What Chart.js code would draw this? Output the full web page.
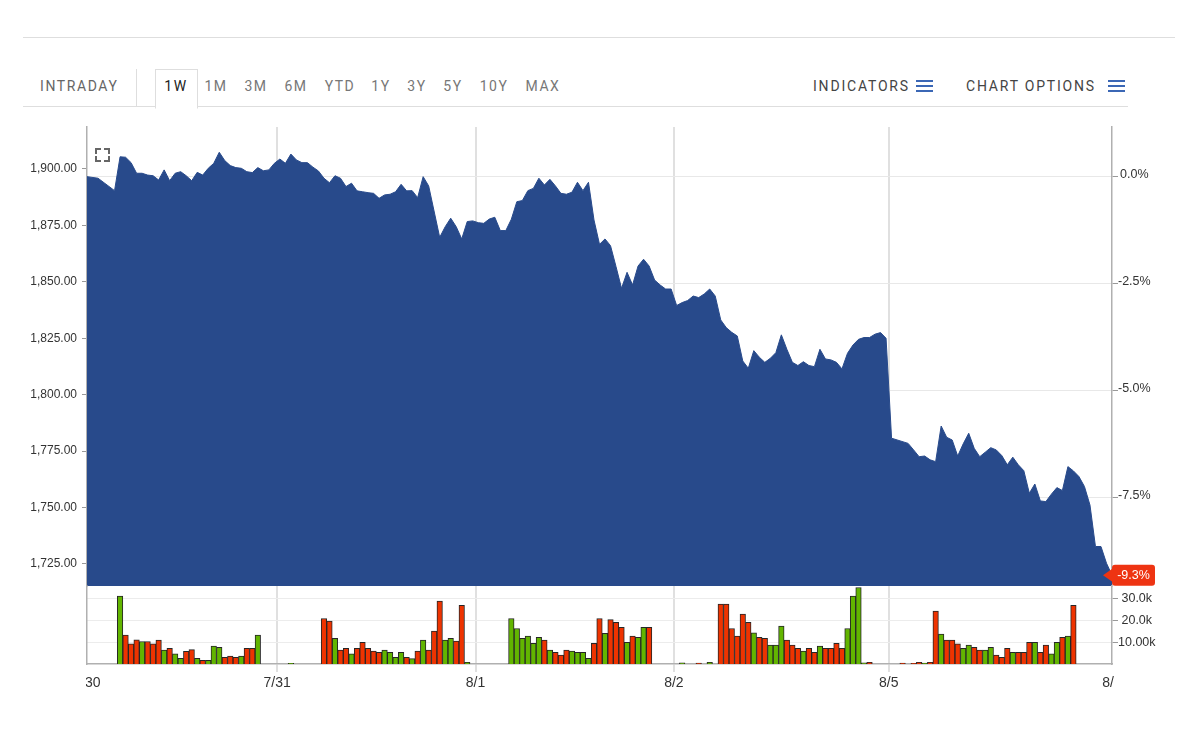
<!DOCTYPE html>
<html>
<head>
<meta charset="utf-8">
<script src="https://cdn.jsdelivr.net/npm/chart.js@4.4.1/dist/chart.umd.min.js"></script>
<style>
  html,body{margin:0;padding:0;background:#fff;}
  body{width:1199px;height:735px;overflow:hidden;position:relative;font-family:Roboto,"Liberation Sans",Arial,sans-serif;}
  .abs{position:absolute;}
  .tab{position:absolute;top:78px;height:17px;line-height:17px;font-size:14px;letter-spacing:1.5px;color:#777;text-align:center;width:50px;}
  .menu{position:absolute;top:78px;height:17px;line-height:17px;font-size:14px;letter-spacing:1.8px;color:#444;white-space:nowrap;}
  .burger{position:absolute;width:17px;height:2px;background:#3b67b5;}
  .fs{position:absolute;width:4px;height:4px;border-color:#666;border-style:solid;border-width:0;}
</style>
</head>
<body>
  <div class="abs" style="left:23px;top:37px;width:1152px;height:1px;background:#dedede"></div>

  <div class="abs" style="left:23px;top:106px;width:1105px;height:1px;background:#dedede"></div>
  <div class="menu" style="left:40px;color:#666;letter-spacing:1.6px">INTRADAY</div>
  <div class="abs" style="left:136px;top:69px;width:1px;height:38px;background:#dedede"></div>
  <div class="abs" style="left:155px;top:69px;width:41px;height:38px;border:1px solid #dedede;border-bottom:1px solid #fff;background:#fff"></div>
  <div class="tab" style="left:151px;color:#222">1W</div>
  <div class="tab" style="left:191px">1M</div>
  <div class="tab" style="left:231px">3M</div>
  <div class="tab" style="left:271px">6M</div>
  <div class="tab" style="left:315px">YTD</div>
  <div class="tab" style="left:356px">1Y</div>
  <div class="tab" style="left:392px">3Y</div>
  <div class="tab" style="left:428px">5Y</div>
  <div class="tab" style="left:469px">10Y</div>
  <div class="tab" style="left:518px">MAX</div>

  <div class="menu" style="left:813px">INDICATORS</div>
  <div class="burger" style="left:916px;top:80px"></div>
  <div class="burger" style="left:916px;top:85px"></div>
  <div class="burger" style="left:916px;top:90px"></div>
  <div class="menu" style="left:966px">CHART OPTIONS</div>
  <div class="burger" style="left:1108px;top:80px"></div>
  <div class="burger" style="left:1108px;top:85px"></div>
  <div class="burger" style="left:1108px;top:90px"></div>

  <canvas id="priceChart" width="1199" height="470" style="position:absolute;left:0;top:120px"></canvas>
  <canvas id="volChart" width="1199" height="120" style="position:absolute;left:0;top:580px"></canvas>

  <div class="abs" style="left:95px;top:148px;width:15px;height:14px">
    <div class="fs" style="left:0;top:0;border-left-width:2px;border-top-width:2px"></div>
    <div class="fs" style="right:0;top:0;border-right-width:2px;border-top-width:2px"></div>
    <div class="fs" style="left:0;bottom:0;border-left-width:2px;border-bottom-width:2px"></div>
    <div class="fs" style="right:0;bottom:0;border-right-width:2px;border-bottom-width:2px"></div>
  </div>

<script>
// ---------------- data ----------------
const prevClose = 1896.5;
const priceMin = 1715.2;
const priceMax = 1918.6;
const priceTicks = [1725, 1750, 1775, 1800, 1825, 1850, 1875, 1900];
const pctTicks = [0, -2.5, -5, -7.5];
const volMax = 36;                       // thousands
const volTicks = [10, 20, 30];           // thousands
const volTickLabels = ['10.00k', '20.0k', '30.0k'];
const slotCount = 186;
const dayTicks = [0, 34.5, 70.5, 106.5, 145.5, 186];
const dayLabels = ['7/30', '7/31', '8/1', '8/2', '8/5', '8/6'];

// price per time slot (null = no print)
const price = [
  // 7/30 pre
  1896.6, null, 1895.9, null, null, 1890.4,
  // 7/30 session
  1905.4, 1905.2, 1902.8, 1898.1, 1898.1, 1897.3, 1897.0, 1895.1, 1899.6, 1894.8,
  1898.1, 1898.8, 1897.0, 1894.8, 1898.5, 1897.3, 1900.3, 1902.5, 1907.4, 1903.7,
  1901.5, 1900.6, 1900.3, 1898.8, 1898.4, 1900.6,
  // after hours / 7/31 pre
  1899.2, 1899.6, 1902.5, 1904.4, 1902.5, 1906.6, 1904.0, 1902.8, 1902.8, 1900.8, 1899.1,
  // 7/31 session
  1895.9, 1893.9, 1897.0, 1895.9, 1892.2, 1893.7, 1890.3, 1889.9, 1889.5, 1889.2,
  1887.0, 1888.5, 1888.8, 1889.9, 1893.2, 1890.3, 1890.4, 1887.3, 1896.6, 1892.5,
  null, 1869.7, 1874.4, 1878.2, 1874.4, 1869.0, 1876.7,
  // 8/1
  1877.0, 1876.2, 1875.9, 1877.8, 1878.6, 1872.7, 1872.7, 1877.7, 1885.5, 1886.0,
  1890.4, 1891.4, 1895.9, 1892.9, 1895.4, 1892.5, 1889.2, 1888.8, 1889.7, 1894.1,
  1890.4, 1894.1, 1877.4, 1866.6, 1869.0, 1866.0, 1856.7, 1847.1, 1854.2, 1848.6,
  1857.0, 1860.0, 1857.0, 1850.8, 1848.6, 1846.8, 1846.8,
  // 8/2
  1839.5, 1840.8, 1841.7, 1843.7, 1843.0, 1844.6, 1846.8, 1843.7, 1833.1, 1829.7,
  1827.6, 1826.0, 1814.9, 1811.7, 1819.5, 1816.6, 1814.3, 1816.1, 1818.6, 1826.5,
  1820.1, 1814.3, 1812.9, 1814.6, 1812.9, 1812.4, 1820.1, 1815.8, 1815.4, 1814.3,
  1811.4, 1818.3, 1822.0, 1824.5, 1825.3, 1825.3, 1826.8, 1827.5, 1825.0,
  // 8/5
  1780.7, null, null, 1778.4, 1775.5, 1772.5, 1772.8, 1771.1, 1770.3, 1786.1,
  1781.1, 1779.9, 1772.8, 1778.2, 1782.9, 1776.2, 1772.5, 1774.5, 1776.5, 1775.5,
  1773.0, 1768.9, 1772.3, 1768.9, 1766.3, 1756.3, 1760.4, 1752.9, 1752.6, 1755.9,
  1758.8, 1757.5, 1768.1, 1766.2, 1763.7, 1759.3, 1751.1, 1732.7, 1732.7, 1725.3,
  1720.0
];

const gap = n => Array(n).fill(null);
// volume per slot, thousands of shares
const volume = [].concat(
  gap(6),
  [31.3, 13.3, 9.3, 11.2, 10.4, 10.4, 9.3, 11.0, 6.4, 7.2, 4.7, 2.6, 5.8, 6.6, 2.6, 1.7, 1.7, 8.3, 7.7, 3.1, 3.7, 3.1, 3.7, 7.2, 7.2, 13.3],
  gap(5), [0.3], gap(5),
  [21.0, 19.8, 11.8, 6.4, 7.2, 4.7, 7.2, 10.0, 7.2, 6.0, 5.4, 6.4, 5.4, 3.1, 5.4, 3.1, 2.5, 6.0, 11.0, 6.4, 15.2, 29.0, 11.0, 11.8, 10.6, 27.1, 0.8],
  gap(7),
  [21.0, 16.4, 11.8, 12.9, 9.5, 12.3, 11.0, 6.4, 5.4, 4.1, 6.4, 6.0, 5.4, 5.4, 2.6, 9.5, 21.0, 14.1, 20.5, 19.2, 16.9, 10.0, 12.9, 12.3, 16.9, 16.9],
  gap(5), [0.5], gap(2), [0.4], gap(1), [0.8], gap(1),
  [27.6, 27.6, 16.4, 12.9, 23.0, 19.2, 14.4, 12.3, 11.8, 8.7, 8.7, 17.5, 11.0, 8.7, 7.2, 6.0, 7.2, 5.4, 8.3, 7.2, 7.2, 9.5, 7.2, 16.4, 31.3, 35.3],
  [0.5, 0.8], gap(5), [0.4], gap(1), [0.3, 0.8, 0.4, 0.8],
  [24.4, 13.8, 11.0, 11.0, 9.3, 7.2, 8.7, 7.7, 6.4, 6.4, 7.7, 4.1, 3.1, 7.2, 5.4, 5.4, 5.4, 10.0, 10.0, 5.4, 8.7, 4.7, 10.0, 12.3, 12.9, 27.1],
  gap(7)
);
// 1 = up (green), 0 = down (red)
const volumeUp = [].concat(
  gap(6),
  [1,0,0,0,1,0,0,0,1,0,1,1,0,0,1,0,1,1,1,0,0,0,1,0,0,1],
  gap(5), [1], gap(5),
  [0,0,1,0,0,1,0,0,0,0,0,1,1,1,1,0,1,0,1,0,0,0,1,1,0,0,1],
  gap(7),
  [1,1,1,1,1,1,0,1,0,0,0,1,1,1,1,0,0,1,0,0,0,1,0,1,1,0],
  gap(5), [1], gap(2), [0], gap(1), [1], gap(1),
  [0,0,0,0,0,0,1,0,0,1,1,1,0,0,0,1,0,0,1,0,0,0,0,1,1,1],
  [1, 0], gap(5), [0], gap(1), [0, 0, 1, 0],
  [0,1,0,0,0,1,1,0,0,1,1,0,0,0,1,0,0,0,1,0,0,1,1,0,1,0],
  gap(7)
);

// ---------------- styling ----------------
const AREA = '#284a8b';
const UP = '#62b500';
const DOWN = '#ee3300';
const BADGE = '#ee3412';
const FONT = '"Liberation Sans", Arial, sans-serif';
Chart.defaults.font.family = FONT;
Chart.defaults.color = '#333';

const pct = p => (p / prevClose - 1) * 100;
const dayGridColor = c => (c.index === 0 || c.index === dayTicks.length - 1) ? 'rgba(0,0,0,0)' : '#e0e0e0';
const fixWidth = w => s => { s.width = w; s.paddingTop = 0; s.paddingBottom = 0; };

const badgePlugin = {
  id: 'lastBadge',
  afterDraw(chart) {
    const { ctx, chartArea, scales } = chart;
    let last = null;
    for (let i = price.length - 1; i >= 0; i--) { if (price[i] !== null) { last = price[i]; break; } }
    const v = pct(last);
    const y = scales.yp.getPixelForValue(v);
    const x = chartArea.right;
    ctx.save();
    ctx.fillStyle = BADGE;
    ctx.beginPath();
    ctx.moveTo(x - 9, y);
    ctx.lineTo(x + 1, y - 7);
    ctx.lineTo(x + 1, y + 7);
    ctx.closePath();
    ctx.fill();
    ctx.beginPath();
    ctx.roundRect(x, y - 10.5, 43, 21, 3);
    ctx.fill();
    ctx.fillStyle = '#fff';
    ctx.font = '12.5px ' + FONT;
    ctx.textAlign = 'center';
    ctx.textBaseline = 'middle';
    ctx.fillText(v.toFixed(1) + '%', x + 21.5, y + 0.5);
    ctx.restore();
  }
};

const dayLabelPlugin = {
  id: 'dayLabels',
  afterDraw(chart) {
    const { ctx, chartArea, scales } = chart;
    ctx.save();
    ctx.beginPath();
    ctx.rect(chartArea.left - 1, chartArea.bottom, chartArea.right - chartArea.left + 3, chart.height - chartArea.bottom);
    ctx.clip();
    ctx.font = '14px ' + FONT;
    ctx.fillStyle = '#333';
    ctx.textAlign = 'center';
    ctx.textBaseline = 'middle';
    dayTicks.forEach((v, i) => ctx.fillText(dayLabels[i], scales.x.getPixelForValue(v), chartArea.bottom + 19));
    ctx.restore();
  }
};

const xAxis = (extra) => Object.assign({
  type: 'linear', min: 0, max: slotCount, offset: false,
  afterBuildTicks: s => { s.ticks = dayTicks.map(v => ({ value: v })); },
  ticks: { display: false },
}, extra);

// ---------------- price chart ----------------
new Chart(document.getElementById('priceChart'), {
  type: 'line',
  data: {
    datasets: [{
      data: price.map((p, i) => ({ x: i, y: p })),
      fill: 'start',
      backgroundColor: AREA,
      borderColor: AREA,
      borderWidth: 1,
      pointRadius: 0,
      tension: 0,
      spanGaps: true,
      yAxisID: 'y'
    }]
  },
  options: {
    responsive: false, animation: false, events: [],
    layout: { padding: { top: 7, bottom: 4, left: 0, right: 0 } },
    plugins: { legend: { display: false }, tooltip: { enabled: false } },
    scales: {
      x: xAxis({
        grid: { color: dayGridColor, lineWidth: 2, drawTicks: false, offset: false },
        border: { display: false },
        afterFit: s => { s.height = 0; }
      }),
      y: {
        position: 'left', min: priceMin, max: priceMax,
        afterBuildTicks: s => { s.ticks = priceTicks.map(v => ({ value: v })); },
        ticks: {
          padding: 5, color: '#333', font: { size: 12 },
          callback: v => v.toLocaleString('en-US', { minimumFractionDigits: 2, maximumFractionDigits: 2 })
        },
        grid: { drawOnChartArea: false, tickLength: 5, color: '#999' },
        border: { color: '#b0b0b0', width: 1.5 },
        afterFit: fixWidth(87)
      },
      yp: {
        position: 'right', min: pct(priceMin), max: pct(priceMax),
        afterBuildTicks: s => { s.ticks = pctTicks.map(v => ({ value: v })); },
        ticks: {
          padding: 0, crossAlign: 'center', labelOffset: -2, color: '#333', font: { size: 12.5 },
          callback: v => v.toFixed(1) + '%'
        },
        grid: { color: '#e8e8e8', lineWidth: 1, tickLength: 6, tickColor: '#999' },
        border: { color: '#b0b0b0', width: 1.5 },
        afterFit: fixWidth(87)
      }
    }
  },
  plugins: [badgePlugin]
});

// ---------------- volume chart ----------------
const volPoints = [];
const volColors = [];
volume.forEach((v, i) => {
  if (v !== null) { volPoints.push({ x: i, y: v }); volColors.push(volumeUp[i] ? UP : DOWN); }
});

new Chart(document.getElementById('volChart'), {
  type: 'bar',
  data: {
    datasets: [{
      data: volPoints,
      backgroundColor: volColors,
      borderColor: '#262626',
      borderWidth: 1,
      barPercentage: 1,
      categoryPercentage: 1,
      xAxisID: 'x',
      yAxisID: 'yv'
    }]
  },
  options: {
    responsive: false, animation: false, events: [],
    layout: { padding: { top: 6, bottom: 0, left: 0, right: 0 } },
    plugins: { legend: { display: false }, tooltip: { enabled: false } },
    scales: {
      x: xAxis({
        grid: { color: dayGridColor, tickColor: dayGridColor, lineWidth: 2, drawTicks: true, tickLength: 8, offset: false },
        border: { color: '#b0b0b0', width: 1.5 },
        afterFit: s => { s.height = 36; }
      }),
      yl: {
        position: 'left', min: 0, max: volMax,
        ticks: { display: false },
        grid: { drawOnChartArea: false, drawTicks: false },
        border: { color: '#b0b0b0', width: 1.5 },
        afterFit: fixWidth(87)
      },
      yv: {
        position: 'right', min: 0, max: volMax,
        afterBuildTicks: s => { s.ticks = volTicks.map(v => ({ value: v })); },
        ticks: {
          padding: 0, crossAlign: 'center', color: '#333', font: { size: 12.5 },
          callback: (v, i) => volTickLabels[i]
        },
        grid: { color: '#ececec', lineWidth: 1, tickLength: 6, tickColor: '#999' },
        border: { color: '#b0b0b0', width: 1.5 },
        afterFit: fixWidth(87)
      }
    }
  },
  plugins: [dayLabelPlugin]
});
</script>
</body>
</html>
